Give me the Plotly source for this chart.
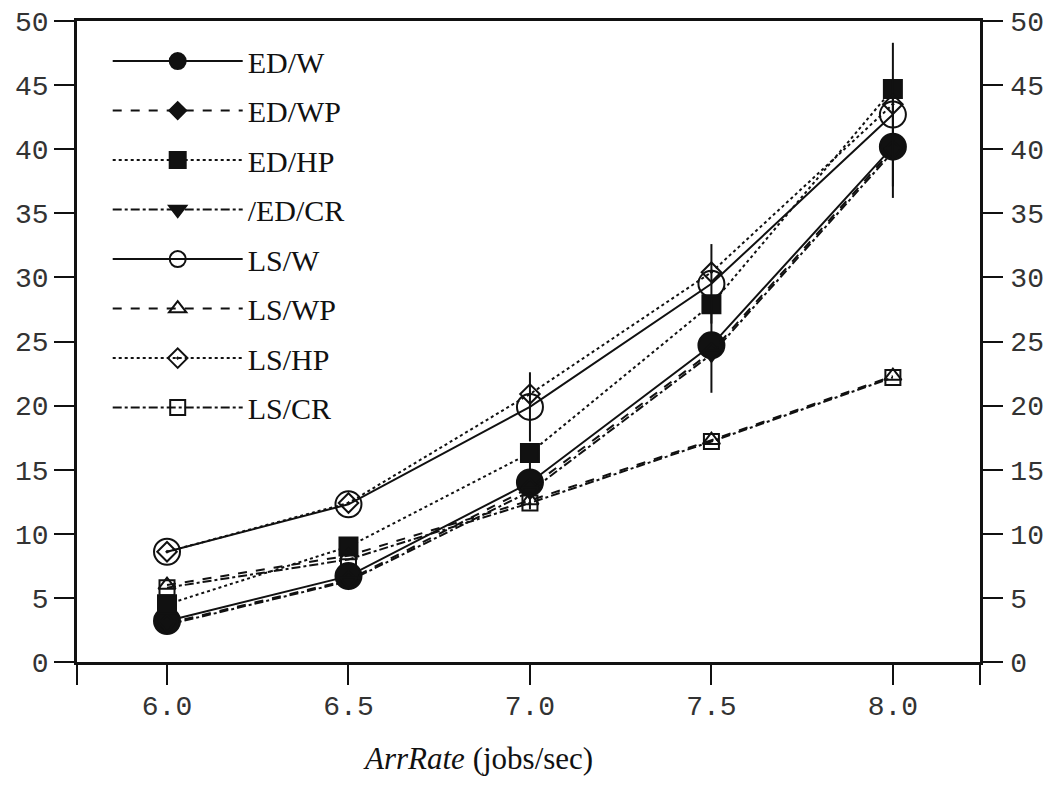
import plotly.graph_objects as go

# ---- data ----
arr_rate = [6.0, 6.5, 7.0, 7.5, 8.0]
series_names = ["ED/W", "ED/WP", "ED/HP", "/ED/CR", "LS/W", "LS/WP", "LS/HP", "LS/CR"]
ed_w = [3.2, 6.7, 14.0, 24.7, 40.2]
ed_wp = [3.0, 6.4, 13.6, 24.2, 40.0]
ed_hp = [4.5, 9.0, 16.3, 27.9, 44.7]
ed_cr = [2.9, 6.3, 13.3, 24.0, 39.8]
ls_w = [8.6, 12.3, 19.9, 29.5, 42.7]
ls_wp = [6.0, 8.3, 12.6, 17.3, 22.3]
ls_hp = [8.6, 12.4, 20.9, 30.4, 43.5]
ls_cr = [5.8, 8.0, 12.4, 17.2, 22.2]
ed_w_err = [0.0, 0.0, 2.1, 3.7, 4.0]
ls_w_err = [0.0, 0.0, 2.7, 3.1, 5.6]
x_tick_vals = [6.0, 6.5, 7.0, 7.5, 8.0]
x_tick_text = ["6.0", "6.5", "7.0", "7.5", "8.0"]
y_tick_vals = [0, 5, 10, 15, 20, 25, 30, 35, 40, 45, 50]

# ---- style ----
X_RANGE = [5.752, 8.24]
Y_RANGE = [0, 50]
INK = "#111111"
styles = [
    dict(symbol="circle", size=26, dash="solid", err=ed_w_err, yaxis="y"),
    dict(symbol="diamond", size=13, dash="dash", err=None, yaxis="y"),
    dict(symbol="square", size=18, dash="dot", err=None, yaxis="y"),
    dict(symbol="triangle-down", size=15, dash="dashdot", err=None, yaxis="y"),
    dict(symbol="circle-open", size=26, dash="solid", err=ls_w_err, yaxis="y"),
    dict(symbol="triangle-up-open", size=15, dash="dash", err=None, yaxis="y"),
    dict(symbol="diamond-open-dot", size=15, dash="dot", err=None, yaxis="y"),
    dict(symbol="square-open", size=15, dash="dashdot", err=None, yaxis="y2"),
]
values = [ed_w, ed_wp, ed_hp, ed_cr, ls_w, ls_wp, ls_hp, ls_cr]

fig = go.Figure()
for name, vals, st in zip(series_names, values, styles):
    tr = dict(
        x=arr_rate, y=vals, name=name, mode="lines+markers", legendgroup=name,
        yaxis=st["yaxis"],
        line=dict(color=INK, width=2, dash=st["dash"]),
        marker=dict(symbol=st["symbol"], size=st["size"], color=INK,
                    line=dict(color=INK, width=2)),
    )
    if st["err"] is not None:
        tr["error_y"] = dict(type="data", array=st["err"], visible=True,
                             color=INK, thickness=2, width=0)
    fig.add_trace(go.Scatter(**tr))

tick_font = dict(family="Liberation Mono, Courier New, monospace", size=28, color="#333333")

x_all_ticks = [X_RANGE[0]] + x_tick_vals + [X_RANGE[1]]
x_all_text = [""] + x_tick_text + [""]

axis_common = dict(showline=True, linecolor=INK, linewidth=2.5,
                   ticks="outside", ticklen=20, tickwidth=2, tickcolor=INK,
                   showgrid=False, zeroline=False, tickfont=tick_font, automargin=False,
                   ticklabeloverflow="allow")

fig.update_layout(
    width=1051, height=785,
    margin=dict(l=69, r=79, t=13, b=131),
    paper_bgcolor="white", plot_bgcolor="white",
    showlegend=True,
    legend=dict(x=0.034, y=0.978, xanchor="left", yanchor="top",
                bgcolor="rgba(0,0,0,0)", borderwidth=0,
                font=dict(family="Liberation Serif, Times New Roman, serif", size=30, color=INK),
                itemwidth=130, tracegroupgap=7.5),
    xaxis=dict(range=X_RANGE, tickmode="array", tickvals=x_all_ticks, ticktext=x_all_text,
               mirror=True, ticklabelstandoff=-3, **axis_common),
    yaxis=dict(range=Y_RANGE, tickmode="array", tickvals=y_tick_vals,
               ticklabelstandoff=0, **axis_common),
    yaxis2=dict(range=Y_RANGE, overlaying="y", side="right", tickmode="array",
                tickvals=y_tick_vals, ticklabelstandoff=2, **axis_common),
)

fig.add_annotation(
    x=0.444, y=-0.15, xref="paper", yref="paper", showarrow=False,
    xanchor="center", yanchor="middle",
    text="<i>ArrRate</i> (jobs/sec)",
    font=dict(family="Liberation Serif, Times New Roman, serif", size=31, color=INK),
)

fig.write_html("out.html")
